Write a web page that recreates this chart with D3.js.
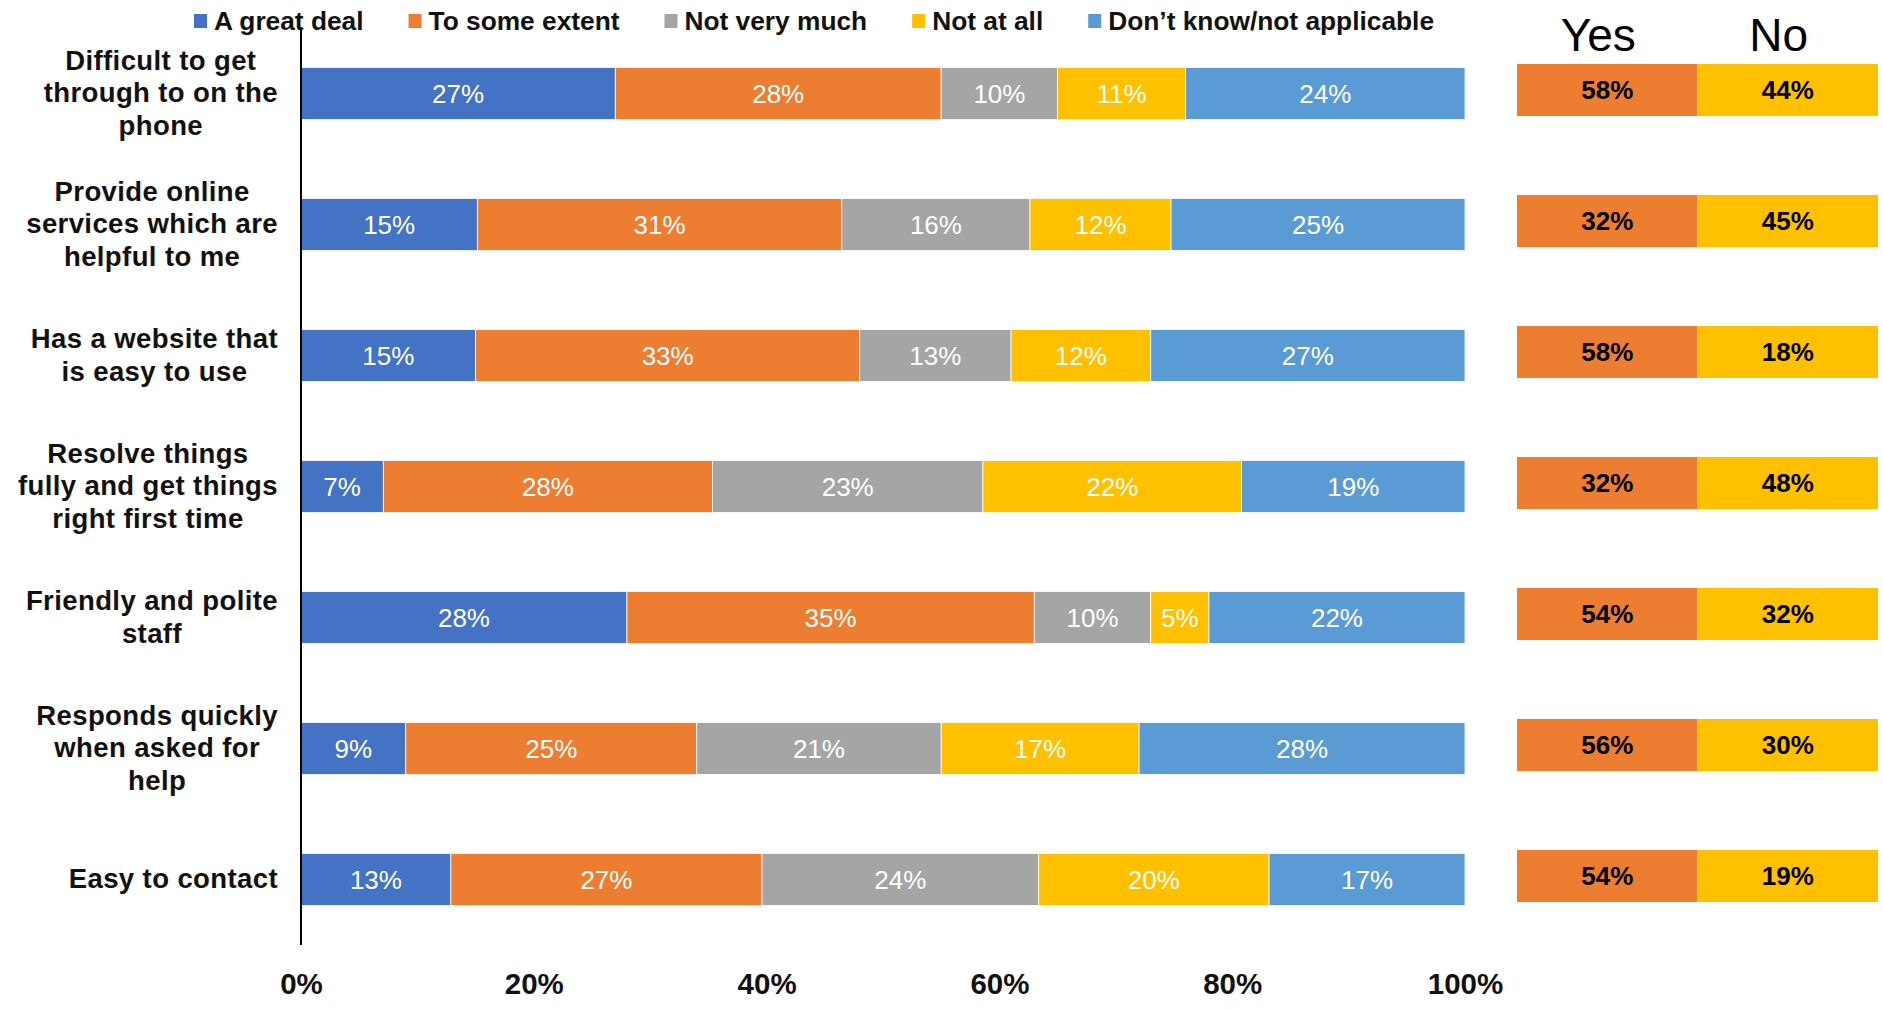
<!DOCTYPE html>
<html>
<head>
<meta charset="utf-8">
<script src="https://cdn.jsdelivr.net/npm/d3@7"></script>
<style>
  html, body { margin: 0; padding: 0; background: #fff; }
  svg { display: block; font-family: "Liberation Sans", Arial, sans-serif; }
</style>
</head>
<body>
<svg id="chart" width="1883" height="1009"></svg>
<script>
// Survey statements (rows, top to bottom), with manual line breaks
const categories = [
  ["Difficult to get", "through to on the", "phone"],
  ["Provide online", "services which are", "helpful to me"],
  ["Has a website that", "is easy to use"],
  ["Resolve things", "fully and get things", "right first time"],
  ["Friendly and polite", "staff"],
  ["Responds quickly", "when asked for", "help"],
  ["Easy to contact"]
];

// Response series
const seriesNames = ["A great deal", "To some extent", "Not very much", "Not at all", "Don\u2019t know/not applicable"];
const seriesColors = ["#4472C4", "#ED7D31", "#A5A5A5", "#FFC000", "#5B9BD5"];

const aGreatDeal    = [27, 15, 15, 7, 28, 9, 13];
const toSomeExtent  = [28, 31, 33, 28, 35, 25, 27];
const notVeryMuch   = [10, 16, 13, 23, 10, 21, 24];
const notAtAll      = [11, 12, 12, 22, 5, 17, 20];
const dontKnow      = [24, 25, 27, 19, 22, 28, 17];

// Side table
const yesValues = [58, 32, 58, 32, 54, 56, 54];
const noValues  = [44, 45, 18, 48, 32, 30, 19];
const tableColumns = ["Yes", "No"];
const tableColors = ["#ED7D31", "#FFC000"];

const xTicks = [0, 0.2, 0.4, 0.6, 0.8, 1.0];

// ---- build rows for stacking ----
const keys = seriesNames;
const seriesValues = [aGreatDeal, toSomeExtent, notVeryMuch, notAtAll, dontKnow];
const rows = categories.map((c, i) => {
  const r = { id: i };
  keys.forEach((k, j) => { r[k] = seriesValues[j][i]; });
  return r;
});
const stacked = d3.stack().keys(keys).offset(d3.stackOffsetExpand)(rows);

const svg = d3.select("#chart");

const x = d3.scaleLinear().domain([0, 1]).range([301, 1465]);
const y = d3.scaleBand()
  .domain(d3.range(categories.length))
  .range([28, 945])
  .paddingInner(0.603)
  .paddingOuter(0.3015);
const color = d3.scaleOrdinal().domain(keys).range(seriesColors);

// ---- stacked bars ----
const layer = svg.append("g").selectAll("g")
  .data(stacked)
  .join("g")
  .attr("fill", d => color(d.key));

layer.selectAll("rect")
  .data(d => d.map(p => ({ p, key: d.key })))
  .join("rect")
  .attr("x", d => x(d.p[0]))
  .attr("y", d => y(d.p.data.id))
  .attr("width", d => x(d.p[1]) - x(d.p[0]))
  .attr("height", y.bandwidth())
  .attr("stroke", "#ffffff")
  .attr("stroke-width", 0.8);

layer.selectAll("text")
  .data(d => d.map(p => ({ p, key: d.key })))
  .join("text")
  .attr("x", d => (x(d.p[0]) + x(d.p[1])) / 2)
  .attr("y", d => y(d.p.data.id) + y.bandwidth() / 2)
  .attr("dy", "0.36em")
  .attr("text-anchor", "middle")
  .attr("fill", "#ffffff")
  .attr("font-size", 26)
  .text(d => d.p.data[d.key] + "%");

// ---- category axis line ----
svg.append("line")
  .attr("x1", x(0)).attr("x2", x(0))
  .attr("y1", y.range()[0]).attr("y2", y.range()[1])
  .attr("stroke", "#000").attr("stroke-width", 2);

// ---- category labels: each block centred, right edge aligned ----
const labelRight = 278;
const lineH = 32.5;
categories.forEach((lines, i) => {
  const g = svg.append("g");
  const t = g.append("text")
    .attr("font-size", 27.5)
    .attr("font-weight", "bold")
    .attr("letter-spacing", 0.4)
    .attr("fill", "#111")
    .attr("text-anchor", "middle");
  const cy = y(i) + y.bandwidth() / 2 - 1;
  const top = cy - (lines.length - 1) * lineH / 2;
  const spans = lines.map((ln, k) => t.append("tspan")
    .attr("y", top + k * lineH)
    .attr("dy", "0.36em")
    .text(ln));
  let maxW = 0;
  spans.forEach(s => { maxW = Math.max(maxW, s.node().getComputedTextLength()); });
  spans.forEach(s => s.attr("x", labelRight - maxW / 2));
});

// ---- percentage axis (labels only) ----
const xAxis = d3.axisBottom(x)
  .tickValues(xTicks)
  .tickFormat(d3.format(".0%"))
  .tickSize(0)
  .tickPadding(0);
const ax = svg.append("g").attr("transform", "translate(0,973)").call(xAxis);
ax.select(".domain").remove();
ax.selectAll("text")
  .attr("font-size", 29.5)
  .attr("font-weight", "bold")
  .attr("fill", "#111")
  .attr("font-family", "'Liberation Sans', Arial, sans-serif")
  .attr("dy", "0.71em");

// ---- legend ----
const legend = svg.append("g").attr("transform", "translate(194,0)");
let lx = 0;
keys.forEach((k, i) => {
  const g = legend.append("g").attr("transform", `translate(${lx},0)`);
  g.append("rect").attr("x", 0).attr("y", 14).attr("width", 13).attr("height", 14).attr("fill", color(k));
  const t = g.append("text")
    .attr("x", 20).attr("y", 21).attr("dy", "0.36em")
    .attr("font-size", 26.3).attr("font-weight", "bold").attr("fill", "#111")
    .text(k);
  lx += 20 + t.node().getComputedTextLength() + 45;
});

// ---- Yes / No table ----
const tx = d3.scaleBand().domain(tableColumns).range([1517, 1878]);
const tableVals = { Yes: yesValues, No: noValues };
const tcolor = d3.scaleOrdinal().domain(tableColumns).range(tableColors);

svg.append("g").selectAll("text")
  .data(tableColumns)
  .join("text")
  .attr("x", d => tx(d) + tx.bandwidth() / 2 - 9)
  .attr("y", 51)
  .attr("text-anchor", "middle")
  .attr("font-size", 46)
  .attr("fill", "#000")
  .text(d => d);

tableColumns.forEach(col => {
  const g = svg.append("g");
  g.selectAll("rect")
    .data(tableVals[col])
    .join("rect")
    .attr("x", tx(col))
    .attr("y", (d, i) => y(i) - 3.5)
    .attr("width", tx.bandwidth())
    .attr("height", y.bandwidth())
    .attr("fill", tcolor(col));
  g.selectAll("text")
    .data(tableVals[col])
    .join("text")
    .attr("x", tx(col) + tx.bandwidth() / 2)
    .attr("y", (d, i) => y(i) - 3.5 + y.bandwidth() / 2)
    .attr("dy", "0.36em")
    .attr("text-anchor", "middle")
    .attr("font-size", 26)
    .attr("font-weight", "bold")
    .attr("fill", "#000")
    .text(d => d + "%");
});
</script>
</body>
</html>
